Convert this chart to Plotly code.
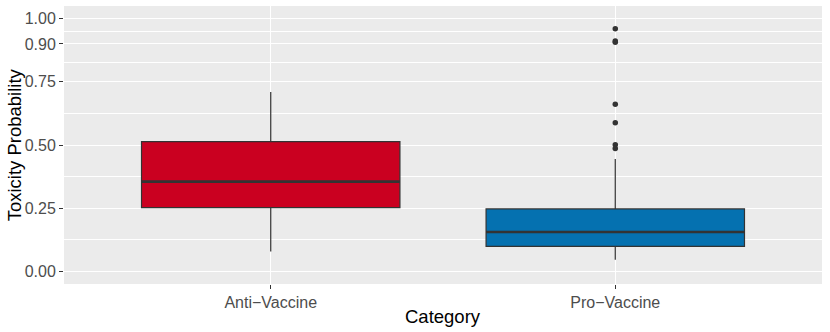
import plotly.graph_objects as go

# categories and box statistics
categories = ["Anti\u2212Vaccine", "Pro\u2212Vaccine"]
q1 = [0.252, 0.099]
median = [0.355, 0.156]
q3 = [0.513, 0.247]
lower_fence = [0.079, 0.046]
upper_fence = [0.710, 0.445]
fill_colors = ["#CA0020", "#0571B0"]

# outliers (Pro-Vaccine only)
outlier_cat = [1, 1, 1, 1, 1, 1, 1]
outlier_vals = [0.960, 0.912, 0.907, 0.661, 0.588, 0.501, 0.486]

y_ticks = [0.0, 0.25, 0.50, 0.75, 0.90, 1.00]
y_minor = [0.125, 0.375, 0.625, 0.825, 0.95]

box_w = 0.75
fig = go.Figure()

for i, cat in enumerate(categories):
    fig.add_trace(go.Box(
        x=[i], q1=[q1[i]], median=[median[i]], q3=[q3[i]],
        lowerfence=[lower_fence[i]], upperfence=[upper_fence[i]],
        fillcolor=fill_colors[i], line=dict(color="#333333", width=1.2),
        width=box_w, whiskerwidth=0, boxpoints=False, showlegend=False,
        name=cat,
    ))
    # ggplot draws a fatter median line
    fig.add_trace(go.Scatter(
        x=[i - box_w / 2, i + box_w / 2], y=[median[i], median[i]],
        mode="lines", line=dict(color="#333333", width=2.6),
        showlegend=False, hoverinfo="skip",
    ))

fig.add_trace(go.Scatter(
    x=outlier_cat, y=outlier_vals, mode="markers",
    marker=dict(color="#333333", size=5.5),
    showlegend=False,
))

FONT = "Liberation Sans, Arial, sans-serif"
axis_font = dict(family=FONT, size=16, color="#4D4D4D")
title_font = dict(family=FONT, size=18.5, color="black")

fig.update_layout(
    width=830, height=332,
    margin=dict(l=64, r=8, t=6, b=48),
    paper_bgcolor="white", plot_bgcolor="#EBEBEB",
    xaxis=dict(
        range=[-0.6, 1.6], tickvals=[0, 1], ticktext=categories,
        showgrid=True, gridcolor="white", gridwidth=1.1, zeroline=False,
        ticks="outside", ticklen=4, tickcolor="#333333", tickwidth=1,
        tickfont=axis_font, automargin=False,
    ),
    yaxis=dict(
        range=[-0.05, 1.05], tickvals=y_ticks,
        ticktext=[f"{v:.2f}" for v in y_ticks],
        showgrid=True, gridcolor="white", gridwidth=1.1, zeroline=False,
        ticks="outside", ticklen=4, tickcolor="#333333", tickwidth=1,
        tickfont=axis_font, automargin=False,
        minor=dict(tickvals=y_minor, showgrid=True, gridcolor="white", gridwidth=0.5, ticks=""),
    ),
    annotations=[
        dict(text="Category", font=title_font, xref="paper", yref="paper",
             x=0.5, y=-0.117, xanchor="center", yanchor="middle", showarrow=False),
        dict(text="Toxicity Probability", font=title_font, textangle=-90,
             xref="paper", yref="paper", x=-0.0655, y=0.5,
             xanchor="center", yanchor="middle", showarrow=False),
    ],
)

# drop the browser's default 8px body margin so the figure fills the window
fig.write_html("out.html", config={"displayModeBar": False},
               post_script="document.body.style.margin='0';")
